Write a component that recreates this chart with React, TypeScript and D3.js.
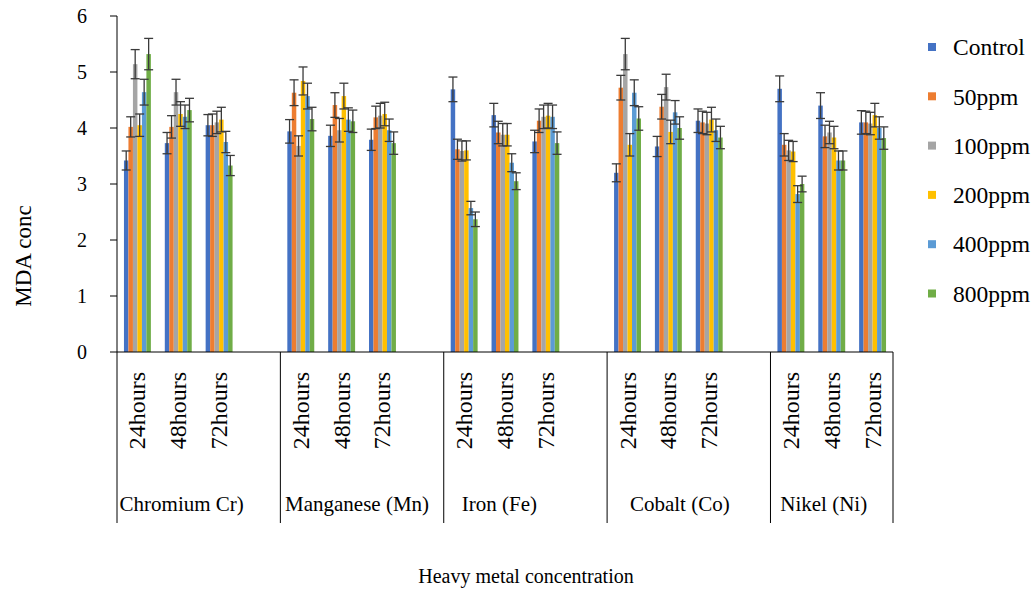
import React from "react";
import * as d3 from "d3";

// chart data
const groups = ["Chromium Cr)", "Manganese (Mn)", "Iron (Fe)", "Cobalt (Co)", "Nikel (Ni)"];
const hours = ["24hours", "48hours", "72hours"];
const seriesNames = ["Control", "50ppm", "100ppm", "200ppm", "400ppm", "800ppm"];
const seriesColors = ["#4472C4", "#ED7D31", "#A5A5A5", "#FFC000", "#5B9BD5", "#70AD47"];
const yTicks = [0, 1, 2, 3, 4, 5, 6];

// one value per group x hour: Cr 24/48/72, Mn 24/48/72, Fe ..., Co ..., Ni ...
const control = [3.42, 3.73, 4.05, 3.94, 3.86, 3.79, 4.69, 4.23, 3.76, 3.2, 3.67, 4.13, 4.7, 4.4, 4.1];
const ppm50 = [4.02, 4.02, 4.05, 4.63, 4.41, 4.19, 3.62, 3.92, 4.13, 4.72, 4.38, 4.1, 3.7, 3.85, 4.1];
const ppm100 = [5.14, 4.64, 4.1, 3.68, 3.96, 4.22, 3.59, 3.88, 4.2, 5.32, 4.73, 4.08, 3.6, 3.92, 4.08];
const ppm200 = [4.05, 4.25, 4.15, 4.84, 4.57, 4.25, 3.6, 3.88, 4.22, 3.7, 3.93, 4.15, 3.58, 3.83, 4.23];
const ppm400 = [4.64, 4.2, 3.75, 4.57, 4.15, 3.96, 2.57, 3.38, 4.2, 4.63, 4.28, 3.96, 2.82, 3.42, 4.0];
const ppm800 = [5.32, 4.32, 3.33, 4.16, 4.12, 3.73, 2.37, 3.05, 3.73, 4.17, 4.0, 3.83, 3.0, 3.42, 3.82];

const errControl = [0.17, 0.19, 0.19, 0.21, 0.19, 0.19, 0.22, 0.21, 0.2, 0.16, 0.18, 0.21, 0.23, 0.23, 0.21];
const err50 = [0.18, 0.2, 0.2, 0.23, 0.22, 0.2, 0.18, 0.2, 0.21, 0.22, 0.22, 0.2, 0.2, 0.2, 0.2];
const err100 = [0.26, 0.23, 0.2, 0.18, 0.21, 0.22, 0.18, 0.2, 0.21, 0.28, 0.23, 0.2, 0.18, 0.2, 0.2];
const err200 = [0.2, 0.22, 0.22, 0.25, 0.23, 0.21, 0.17, 0.2, 0.22, 0.2, 0.21, 0.22, 0.18, 0.2, 0.21];
const err400 = [0.23, 0.21, 0.19, 0.23, 0.21, 0.2, 0.12, 0.16, 0.21, 0.23, 0.21, 0.2, 0.15, 0.17, 0.2];
const err800 = [0.28, 0.21, 0.18, 0.21, 0.2, 0.2, 0.13, 0.15, 0.2, 0.21, 0.2, 0.2, 0.14, 0.17, 0.2];

const seriesValues = [control, ppm50, ppm100, ppm200, ppm400, ppm800];
const seriesErrors = [errControl, err50, err100, err200, err400, err800];

const W = 1036;
const H = 591;
const FONT = "'Liberation Serif', 'Times New Roman', serif";

export default function App() {
  const left = 117;
  const right = 893;
  const top = 16;
  const bottom = 352;

  // each metal gets 4 slots (3 used + 1 empty), the last one only 3
  const slotCount = groups.length * 4 - 1;
  const x = d3.scaleBand<number>().domain(d3.range(slotCount)).range([left, right]);
  const inner = d3.scaleBand<string>().domain(seriesNames).range([0, x.bandwidth()]).paddingOuter(1.55);
  const y = d3.scaleLinear().domain([0, 6]).range([bottom, top]);

  const slotOf = (gi: number, hi: number) => gi * 4 + hi;
  const boundaries = groups.map((_, gi) => x(gi * 4)!).concat([right]);
  const labelDx = [-17, -5, -26, -9, -8];

  return (
    <svg width={W} height={H} style={{ position: "absolute", left: 0, top: 0, background: "#fff" }} fontFamily={FONT}>
      {/* bars */}
      {seriesNames.map((name, si) => (
        <g key={name} fill={seriesColors[si]}>
          {seriesValues[si].map((v, ci) => {
            const gi = Math.floor(ci / 3);
            const hi = ci % 3;
            const bx = x(slotOf(gi, hi))! + inner(name)!;
            return <rect key={ci} x={bx} y={y(v)} width={inner.bandwidth()} height={y(0) - y(v)} />;
          })}
        </g>
      ))}

      {/* error bars */}
      {seriesNames.map((name, si) => (
        <g key={"e" + name} stroke="#3a3a3a" strokeWidth={1.3}>
          {seriesValues[si].map((v, ci) => {
            const gi = Math.floor(ci / 3);
            const hi = ci % 3;
            const cx = x(slotOf(gi, hi))! + inner(name)! + inner.bandwidth() / 2;
            const e = seriesErrors[si][ci];
            const y1 = y(v + e);
            const y2 = y(v - e);
            return (
              <g key={ci}>
                <line x1={cx} x2={cx} y1={y1} y2={y2} />
                <line x1={cx - 4.5} x2={cx + 4.5} y1={y1} y2={y1} />
                <line x1={cx - 4.5} x2={cx + 4.5} y1={y2} y2={y2} />
              </g>
            );
          })}
        </g>
      ))}

      {/* y axis */}
      <line x1={left} x2={left} y1={top} y2={bottom} stroke="#000" strokeWidth={1} />
      {yTicks.map((t) => (
        <g key={t}>
          <line x1={left - 7} x2={left} y1={y(t)} y2={y(t)} stroke="#000" />
          <text x={87} y={y(t)} dy="0.35em" textAnchor="end" fontSize={20}>
            {t}
          </text>
        </g>
      ))}
      <text transform={`translate(31,${(top + bottom) / 2 + 72}) rotate(-90)`} textAnchor="middle" fontSize={23}>
        MDA conc
      </text>

      {/* x axis */}
      <line x1={left} x2={right} y1={bottom} y2={bottom} stroke="#000" />
      {boundaries.map((bx, i) => (
        <line key={i} x1={bx} x2={bx} y1={bottom} y2={523} stroke="#000" />
      ))}
      {groups.map((g, gi) =>
        hours.map((h, hi) => {
          const cx = x(slotOf(gi, hi))! + x.bandwidth() / 2;
          return (
            <text key={g + h} transform={`translate(${cx + 8},372) rotate(-90)`} textAnchor="end" fontSize={24}>
              {h}
            </text>
          );
        })
      )}
      {groups.map((g, gi) => {
        const cx = (boundaries[gi] + boundaries[gi + 1]) / 2 + labelDx[gi];
        return (
          <text key={g} x={cx} y={511} textAnchor="middle" fontSize={21}>
            {g}
          </text>
        );
      })}
      <text x={526} y={583} textAnchor="middle" fontSize={20}>
        Heavy metal concentration
      </text>

      {/* legend */}
      {seriesNames.map((name, si) => {
        const ly = 47 + si * 49.3;
        return (
          <g key={"l" + name}>
            <rect x={928} y={ly - 4} width={8} height={8} fill={seriesColors[si]} />
            <text x={953} y={ly} dy="0.35em" fontSize={23.5}>
              {name}
            </text>
          </g>
        );
      })}
    </svg>
  );
}
